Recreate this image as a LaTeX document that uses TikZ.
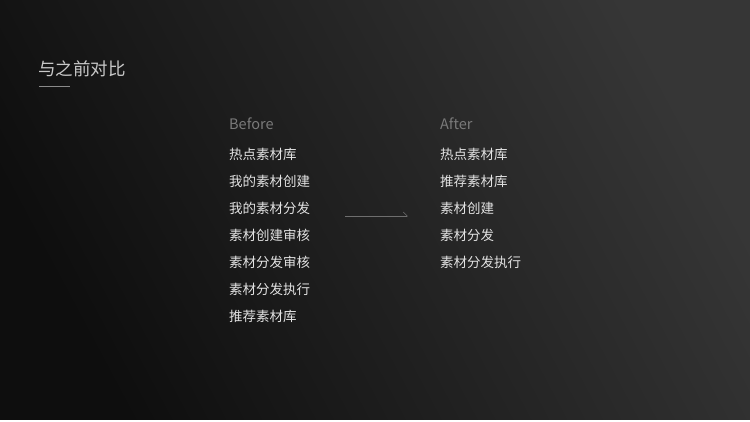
\documentclass[tikz,border=0pt]{standalone}
\usepackage{fontspec}
\setmainfont{Noto Sans CJK SC}
\usepackage{tikz}
\usepackage{xcolor}
\usetikzlibrary{arrows.meta,positioning}
\definecolor{BgDark}{HTML}{0E0E0E}
\definecolor{BgLight}{HTML}{363636}
\definecolor{Title}{HTML}{C8C8C8}
\definecolor{Head}{HTML}{7A7A7A}
\definecolor{Item}{HTML}{E2E2E2}
\definecolor{Rule}{HTML}{8A8A8A}

\begin{document}
\begin{tikzpicture}[
  x=1pt,y=1pt,
  title/.style={anchor=west,inner sep=0pt,text=Title,font=\fontsize{17.5}{20}\selectfont},
  head/.style={anchor=west,inner sep=0pt,text=Head,font=\fontsize{14.5}{17}\selectfont},
  item/.style={anchor=west,inner sep=0pt,text=Item,font=\fontsize{13.5}{16}\selectfont},
  arrow/.style={-{Straight Barb[left,length=4pt,width=8pt]},draw=Rule!80!black,line width=0.6pt}
]
\useasboundingbox (0,0) rectangle (750,422);
\fill[white] (0,0) rectangle (750,422);
\shade[top color=BgLight,bottom color=BgDark,shading angle=-62] (0,2) rectangle (750,422);
% title
\node[title] (ttl) at (38,353) {与之前对比};
\draw[Rule,line width=0.8pt] (39,336) -- (70,336);
% before
\node[head] (bef) at (229,298) {Before};
\foreach \t [count=\i] in {热点素材库,我的素材创建,我的素材分发,素材创建审核,素材分发审核,素材分发执行,推荐素材库}
  \node[item] (b\i) at (229,295-27*\i) {\t};
% after
\node[head] (aft) at (440,298) {After};
\foreach \t [count=\i] in {热点素材库,推荐素材库,素材创建,素材分发,素材分发执行}
  \node[item] (a\i) at (440,295-27*\i) {\t};
% arrow
\coordinate (arrS) at (345,206);
\coordinate (arrE) at (408,206);
\draw[arrow] (arrS) -- (arrE);
\end{tikzpicture}
\end{document}
